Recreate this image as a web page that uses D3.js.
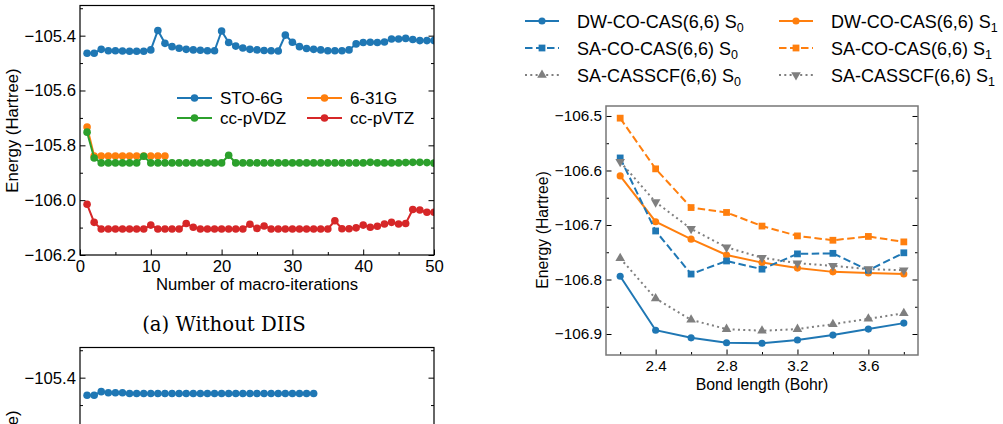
<!DOCTYPE html>
<html>
<head>
<meta charset="utf-8">
<script src="https://cdn.jsdelivr.net/npm/d3@7"></script>
<style>
  body { margin: 0; background: #fff; }
  svg { display: block; }
  text { font-family: "Liberation Sans", Arial, sans-serif; fill: #000; }
</style>
</head>
<body>
<svg id="chart" width="1003" height="424"></svg>
<script>
// 左图：不加 DIIS 的宏迭代能量
var sto_6g = [-105.464, -105.464, -105.450, -105.455, -105.455, -105.456, -105.457, -105.457, -105.457, -105.452,
  -105.381, -105.428, -105.440, -105.446, -105.450, -105.452, -105.453, -105.455, -105.455, -105.383,
  -105.425, -105.438, -105.445, -105.450, -105.452, -105.454, -105.455, -105.456, -105.398, -105.424,
  -105.440, -105.447, -105.450, -105.452, -105.455, -105.455, -105.455, -105.452, -105.430, -105.425,
  -105.424, -105.425, -105.423, -105.412, -105.412, -105.410, -105.414, -105.418, -105.418, -105.418];
var b6_31g = [-105.733, -105.839, -105.839, -105.839, -105.839, -105.839, -105.839, -105.839, -105.839, -105.839,
  -105.839, -105.839];
var cc_pvdz = [-105.752, -105.846, -105.864, -105.864, -105.864, -105.864, -105.864, -105.864, -105.840, -105.864,
  -105.864, -105.864, -105.864, -105.864, -105.864, -105.864, -105.864, -105.864, -105.864, -105.864,
  -105.836, -105.864, -105.864, -105.864, -105.864, -105.864, -105.864, -105.864, -105.864, -105.864,
  -105.864, -105.864, -105.864, -105.864, -105.864, -105.864, -105.864, -105.864, -105.864, -105.864,
  -105.862, -105.864, -105.864, -105.864, -105.864, -105.863, -105.862, -105.862, -105.863, -105.865];
var cc_pvtz = [-106.015, -106.081, -106.105, -106.105, -106.105, -106.105, -106.105, -106.105, -106.105, -106.091,
  -106.105, -106.105, -106.105, -106.105, -106.085, -106.099, -106.105, -106.105, -106.105, -106.105,
  -106.105, -106.105, -106.105, -106.088, -106.103, -106.094, -106.105, -106.105, -106.105, -106.105,
  -106.105, -106.105, -106.105, -106.105, -106.105, -106.075, -106.104, -106.104, -106.101, -106.091,
  -106.099, -106.095, -106.087, -106.081, -106.087, -106.085, -106.034, -106.036, -106.044, -106.044];
// 左下图（只露出上半部分）
var sto_6g_diis = [-105.464, -105.464, -105.451, -105.455, -105.455, -105.455, -105.458, -105.458, -105.458, -105.458,
  -105.458, -105.458, -105.458, -105.458, -105.458, -105.458, -105.458, -105.458, -105.458, -105.458,
  -105.458, -105.458, -105.458, -105.458, -105.458, -105.458, -105.458, -105.458, -105.458, -105.458,
  -105.458, -105.458, -105.458];
var left_series = ["STO-6G", "6-31G", "cc-pVDZ", "cc-pVTZ"];
var left_xticks = [0, 10, 20, 30, 40, 50];
var left_yticks = [-106.2, -106.0, -105.8, -105.6, -105.4];

// 右图：键长扫描
var bond_length = [2.2, 2.4, 2.6, 2.8, 3.0, 3.2, 3.4, 3.6, 3.8];
var dw_s0 = [-106.794, -106.893, -106.907, -106.916, -106.917, -106.911, -106.902, -106.891, -106.880];
var dw_s1 = [-106.610, -106.694, -106.726, -106.755, -106.769, -106.779, -106.786, -106.788, -106.790];
var sa_s0 = [-106.577, -106.711, -106.790, -106.766, -106.781, -106.753, -106.752, -106.783, -106.751];
var sa_s1 = [-106.504, -106.597, -106.668, -106.677, -106.702, -106.720, -106.728, -106.721, -106.731];
var cas_s0 = [-106.761, -106.835, -106.874, -106.891, -106.894, -106.891, -106.882, -106.872, -106.862];
var cas_s1 = [-106.584, -106.658, -106.707, -106.741, -106.760, -106.770, -106.775, -106.781, -106.783];
var right_xticks = [2.4, 2.8, 3.2, 3.6];
var right_yticks = [-106.9, -106.8, -106.7, -106.6, -106.5];

var colors = {
  blue: "#1f77b4",
  orange: "#ff7f0e",
  green: "#2ca02c",
  red: "#d62728",
  gray: "#7f7f7f"
};

var svg = d3.select("#chart");
var fmt1 = d3.format(".1f");
var view_h = 424;

function iterData(arr) {
  return arr.map(function(v, i) { return {x: i + 1, y: v}; });
}

// 画一个左侧面板
function drawLeftPanel(top, series, clip_id, show_xaxis) {
  var x = d3.scaleLinear().domain([0, 50]).range([80, 434]);
  var y = d3.scaleLinear().domain([-106.2, -105.29]).range([top + 249.5, top]);
  var g = svg.append("g");
  var font_size = "16.7px";
  // 只保留画面内能看到的刻度标签
  var label_ticks = left_yticks.filter(function(v){ return y(v) < view_h - 8; });

  g.append("clipPath").attr("id", clip_id)
    .append("rect").attr("x", 80).attr("y", top).attr("width", 354).attr("height", 249.5);

  // 刻度（朝内）
  var yax = g.append("g").attr("transform", "translate(80,0)")
    .call(d3.axisLeft(y).tickValues(label_ticks).tickSize(-5.5).tickPadding(4).tickFormat(fmt1));
  g.append("g").attr("transform", "translate(80,0)")
    .call(d3.axisLeft(y).tickValues(d3.range(-106.1, -105.29, 0.2)).tickSize(-3).tickFormat(""));
  g.append("g").attr("transform", "translate(434,0)")
    .call(d3.axisRight(y).tickValues(left_yticks).tickSize(-5.5).tickFormat(""));
  g.append("g").attr("transform", "translate(434,0)")
    .call(d3.axisRight(y).tickValues(d3.range(-106.1, -105.29, 0.2)).tickSize(-3).tickFormat(""));
  yax.selectAll("text").style("font-size", font_size);

  if (show_xaxis) {
    var xax = g.append("g").attr("transform", "translate(0," + (top + 249.5) + ")")
      .call(d3.axisBottom(x).tickValues(left_xticks).tickSize(-5.5).tickPadding(5));
    g.append("g").attr("transform", "translate(0," + (top + 249.5) + ")")
      .call(d3.axisBottom(x).tickValues([5, 15, 25, 35, 45]).tickSize(-3).tickFormat(""));
    xax.selectAll("text").style("font-size", font_size);
    g.append("text")
      .attr("x", 257).attr("y", top + 284)
      .attr("text-anchor", "middle")
      .style("font-size", font_size)
      .text("Number of macro-iterations");
  }
  g.selectAll(".domain").remove();
  g.selectAll(".tick line").attr("stroke", "#000").attr("stroke-width", 1);

  g.append("text")
    .attr("transform", "translate(18," + (top + 125) + ") rotate(-90)")
    .attr("text-anchor", "middle")
    .style("font-size", font_size)
    .text("Energy (Hartree)");

  var line = d3.line().x(function(d){ return x(d.x); }).y(function(d){ return y(d.y); });
  var plot = g.append("g").attr("clip-path", "url(#" + clip_id + ")");
  series.forEach(function(s) {
    var data = iterData(s.values);
    plot.append("path").datum(data)
      .attr("d", line)
      .attr("fill", "none")
      .attr("stroke", s.color)
      .attr("stroke-width", 2);
    plot.append("g").selectAll("circle")
      .data(data)
      .enter()
      .append("circle")
        .attr("cx", function(d){ return x(d.x); })
        .attr("cy", function(d){ return y(d.y); })
        .attr("r", 3.8)
        .attr("fill", s.color);
  });

  // 边框
  g.append("rect")
    .attr("x", 80).attr("y", top).attr("width", 354).attr("height", 249.5)
    .attr("fill", "none").attr("stroke", "#000").attr("stroke-width", 1.2);
  return g;
}

var top_panel = drawLeftPanel(5.5, [
  {values: sto_6g, color: colors.blue},
  {values: b6_31g, color: colors.orange},
  {values: cc_pvdz, color: colors.green},
  {values: cc_pvtz, color: colors.red}
], "clip_a", true);

// 左图图例
var left_legend = [
  {name: left_series[0], color: colors.blue, x: 177, y: 98},
  {name: left_series[1], color: colors.orange, x: 307, y: 98},
  {name: left_series[2], color: colors.green, x: 177, y: 118},
  {name: left_series[3], color: colors.red, x: 307, y: 118}
];
var lg = top_panel.append("g");
left_legend.forEach(function(item) {
  lg.append("line")
    .attr("x1", item.x).attr("x2", item.x + 35)
    .attr("y1", item.y).attr("y2", item.y)
    .attr("stroke", item.color).attr("stroke-width", 2);
  lg.append("circle")
    .attr("cx", item.x + 17.5).attr("cy", item.y).attr("r", 3.8)
    .attr("fill", item.color);
  lg.append("text")
    .attr("x", item.x + 43).attr("y", item.y + 6)
    .style("font-size", "17px")
    .text(item.name);
});

svg.append("text")
  .attr("x", 224).attr("y", 330.5)
  .attr("text-anchor", "middle")
  .style("font-family", "'DejaVu Serif', serif")
  .style("font-size", "19.7px")
  .text("(a) Without DIIS");

drawLeftPanel(347.5, [
  {values: sto_6g_diis, color: colors.blue}
], "clip_b", false);

// 右图
var rx = d3.scaleLinear().domain([2.12, 3.88]).range([606, 918]);
var ry = d3.scaleLinear().domain([-106.9385, -106.4817]).range([355, 106]);
var rg = svg.append("g");
var rfont = "15.3px";

var ryax = rg.append("g").attr("transform", "translate(606,0)")
  .call(d3.axisLeft(ry).tickValues(right_yticks).tickSize(-5.5).tickPadding(4).tickFormat(fmt1));
rg.append("g").attr("transform", "translate(606,0)")
  .call(d3.axisLeft(ry).tickValues(d3.range(-106.85, -106.48, 0.1)).tickSize(-3).tickFormat(""));
rg.append("g").attr("transform", "translate(918,0)")
  .call(d3.axisRight(ry).tickValues(right_yticks).tickSize(-5.5).tickFormat(""));
rg.append("g").attr("transform", "translate(918,0)")
  .call(d3.axisRight(ry).tickValues(d3.range(-106.85, -106.48, 0.1)).tickSize(-3).tickFormat(""));
var rxax = rg.append("g").attr("transform", "translate(0,355)")
  .call(d3.axisBottom(rx).tickValues(right_xticks).tickSize(-5.5).tickPadding(5).tickFormat(fmt1));
rg.append("g").attr("transform", "translate(0,355)")
  .call(d3.axisBottom(rx).tickValues([2.2, 2.6, 3.0, 3.4, 3.8]).tickSize(-3).tickFormat(""));
ryax.selectAll("text").style("font-size", rfont);
rxax.selectAll("text").style("font-size", rfont);
rg.selectAll(".domain").remove();
rg.selectAll(".tick line").attr("stroke", "#000").attr("stroke-width", 1);

rg.append("text")
  .attr("x", 762).attr("y", 389.5)
  .attr("text-anchor", "middle")
  .style("font-size", "15.8px")
  .text("Bond length (Bohr)");
rg.append("text")
  .attr("transform", "translate(548,230) rotate(-90)")
  .attr("text-anchor", "middle")
  .style("font-size", "15.8px")
  .text("Energy (Hartree)");

var right_series = [
  {name: "DW-CO-CAS(6,6) S", sub: "0", values: dw_s0, color: colors.blue, dash: null, symbol: d3.symbolCircle, size: 40, rot: 0},
  {name: "DW-CO-CAS(6,6) S", sub: "1", values: dw_s1, color: colors.orange, dash: null, symbol: d3.symbolCircle, size: 40, rot: 0},
  {name: "SA-CO-CAS(6,6) S", sub: "0", values: sa_s0, color: colors.blue, dash: "7.5,3.5", symbol: d3.symbolSquare, size: 46, rot: 0},
  {name: "SA-CO-CAS(6,6) S", sub: "1", values: sa_s1, color: colors.orange, dash: "7.5,3.5", symbol: d3.symbolSquare, size: 46, rot: 0},
  {name: "SA-CASSCF(6,6) S", sub: "0", values: cas_s0, color: colors.gray, dash: "2,3.3", symbol: d3.symbolTriangle, size: 40, rot: 0},
  {name: "SA-CASSCF(6,6) S", sub: "1", values: cas_s1, color: colors.gray, dash: "2,3.3", symbol: d3.symbolTriangle, size: 40, rot: 180}
];

var rline = d3.line().x(function(d){ return rx(d.x); }).y(function(d){ return ry(d.y); });
var rplot = rg.append("g");
right_series.forEach(function(s) {
  var data = bond_length.map(function(b, i) { return {x: b, y: s.values[i]}; });
  rplot.append("path").datum(data)
    .attr("d", rline)
    .attr("fill", "none")
    .attr("stroke", s.color)
    .attr("stroke-width", 2)
    .attr("stroke-dasharray", s.dash);
  rplot.append("g").selectAll("path")
    .data(data)
    .enter()
    .append("path")
      .attr("d", d3.symbol().type(s.symbol).size(s.size))
      .attr("transform", function(d){
        return "translate(" + rx(d.x) + "," + ry(d.y) + ") rotate(" + s.rot + ")";
      })
      .attr("fill", s.color);
});

rg.append("rect")
  .attr("x", 606).attr("y", 106).attr("width", 312).attr("height", 249)
  .attr("fill", "none").attr("stroke", "#777").attr("stroke-width", 1.5);

// 右图图例（两列）
var rlg = svg.append("g");
right_series.forEach(function(s, i) {
  var lx = i % 2 === 0 ? 525 : 779;
  var ly = 21 + Math.floor(i / 2) * 27;
  rlg.append("line")
    .attr("x1", lx).attr("x2", lx + 34)
    .attr("y1", ly).attr("y2", ly)
    .attr("stroke", s.color).attr("stroke-width", 2)
    .attr("stroke-dasharray", s.dash);
  rlg.append("path")
    .attr("d", d3.symbol().type(s.symbol).size(s.size))
    .attr("transform", "translate(" + (lx + 17) + "," + ly + ") rotate(" + s.rot + ")")
    .attr("fill", s.color);
  var t = rlg.append("text")
    .attr("x", lx + 52).attr("y", ly + 6.5)
    .style("font-size", "18px")
    .text(s.name);
  t.append("tspan")
    .attr("dy", 4)
    .style("font-size", "12.5px")
    .text(s.sub);
});
</script>
</body>
</html>
